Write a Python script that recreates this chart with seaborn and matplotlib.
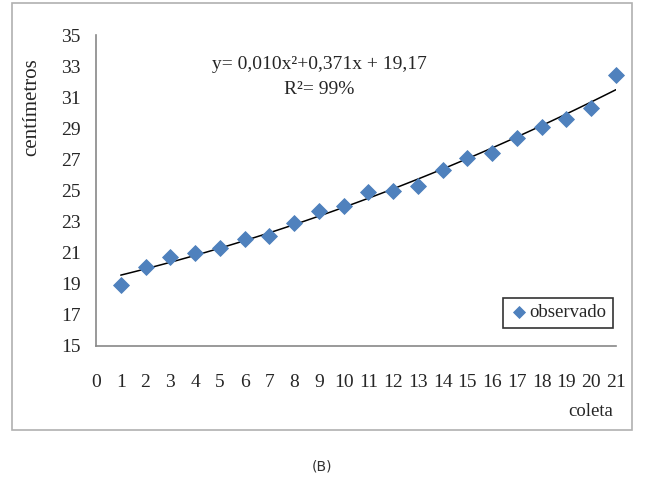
import numpy as np
import pandas as pd
import matplotlib
matplotlib.use("Agg")
import matplotlib.pyplot as plt
from matplotlib.patches import Rectangle
import seaborn as sns

# valores (B)
coleta = list(range(1, 22))
observado = [18.9, 20.1, 20.7, 21.0, 21.3, 21.9, 22.1, 22.9, 23.7, 24.0,
             24.9, 25.0, 25.3, 26.3, 27.1, 27.4, 28.4, 29.1, 29.6, 30.3, 32.4]
x_ticks = list(range(0, 22))
y_ticks = list(range(15, 36, 2))
equacao = "y= 0,010x\u00b2+0,371x + 19,17"
r2_texto = "R\u00b2= 99%"

sns.set_style("white")
plt.rcParams["font.family"] = ["Liberation Serif", "DejaVu Serif"]

df = pd.DataFrame({"coleta": coleta, "cm": observado})

fig = plt.figure(figsize=(6.46, 4.80), dpi=100)
ax = fig.add_axes([96 / 646, 1 - 346 / 480, 520 / 646, 311 / 480])

# moldura externa do grafico
fig.patches.append(Rectangle((12 / 646, 1 - 430 / 480), 620 / 646, 427 / 480,
                             transform=fig.transFigure, fill=False,
                             edgecolor="#b0b0b0", lw=1.2))

# linha de tendencia polinomial (ordem 2)
sns.regplot(data=df, x="coleta", y="cm", order=2, ci=None, scatter=False,
            line_kws=dict(color="black", lw=1.1), ax=ax)
sns.scatterplot(data=df, x="coleta", y="cm", marker="D", s=65, color="#4f81bd",
                edgecolor="#4f81bd", label="observado", clip_on=False, zorder=3, ax=ax)

ax.set_xlim(0, 21)
ax.set_ylim(15, 35)
ax.set_xticks(x_ticks)
ax.set_yticks(y_ticks)
ax.set_xlabel("")
ax.set_ylabel("")
ax.tick_params(axis="both", direction="out", length=6, width=1, color="#888888",
               labelsize=14, pad=5)
ax.tick_params(axis="x", pad=14)
for side in ["top", "right"]:
    ax.spines[side].set_visible(False)
for side in ["left", "bottom"]:
    ax.spines[side].set_color("#888888")
    ax.spines[side].set_linewidth(1.2)

ax.text(0.43, 0.905, equacao, transform=ax.transAxes, ha="center", va="center", fontsize=14)
ax.text(0.43, 0.825, r2_texto, transform=ax.transAxes, ha="center", va="center", fontsize=14)

leg = ax.legend(loc="lower right", bbox_to_anchor=(0.994, 0.058), borderaxespad=0,
                fancybox=False, frameon=True, handletextpad=0.05, borderpad=0.35,
                handlelength=1.0, fontsize=13.5, markerscale=0.75)
leg.get_frame().set_edgecolor("black")
leg.get_frame().set_linewidth(1.2)

fig.text(32 / 646, 1 - 107 / 480, "cent\u00edmetros", rotation=90, ha="center",
         va="center", fontsize=15)
fig.text(613 / 646, 1 - 412 / 480, "coleta", ha="right", va="center", fontsize=13.5)
fig.text(322 / 646, 1 - 466 / 480, "(B)", ha="center", va="center", fontsize=10,
         family=["DejaVu Sans"], color="#333333")

fig.savefig("out.png", dpi=100)
